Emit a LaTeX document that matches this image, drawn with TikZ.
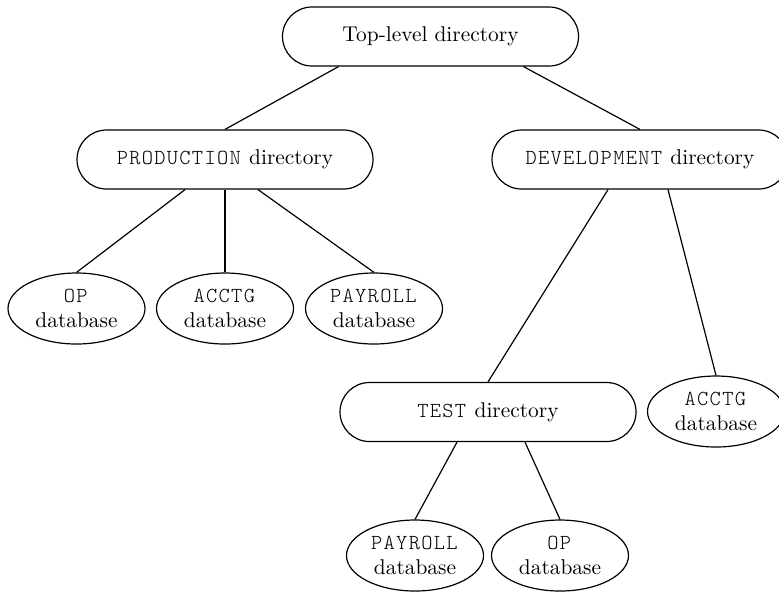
\documentclass[tikz,border=0pt]{standalone}
\usepackage{fontspec}
\setmonofont[LetterSpace=6]{lmmonolt10-regular.otf}
\usepackage{tikz}
\usetikzlibrary{shapes.misc,shapes.geometric,calc}

\begin{document}
\begin{tikzpicture}[x=0.5pt, y=-0.5pt,
    dirbox/.style={draw, rounded rectangle, line width=0.6pt, minimum width=148pt, minimum height=29.5pt, inner sep=0pt, font=\fontsize{10.7}{13}\selectfont},
    dbbox/.style={draw, ellipse, line width=0.6pt, minimum width=68.5pt, minimum height=35.5pt, inner sep=0pt, align=center, font=\fontsize{10.7}{12.5}\selectfont},
    link/.style={line width=0.6pt}]
\useasboundingbox (0,0) rectangle (779,591);

% Directories
\node[dirbox] (top) at (430.5, 36.5) {Top-level directory};
\node[dirbox] (prod) at (225, 159.5) {\texttt{PRODUCTION} directory};
\node[dirbox] (dev) at (640, 159.5) {\texttt{DEVELOPMENT} directory};
\node[dirbox] (test) at (488, 412) {\texttt{TEST} directory};

% Databases
\node[dbbox] (op1) at (76.5, 308.5) {\texttt{OP}\\database};
\node[dbbox] (acctg1) at (225, 308.5) {\texttt{ACCTG}\\database};
\node[dbbox] (payroll1) at (374, 308.5) {\texttt{PAYROLL}\\database};
\node[dbbox] (acctg2) at (716, 411.5) {\texttt{ACCTG}\\database};
\node[dbbox] (payroll2) at (415, 555.5) {\texttt{PAYROLL}\\database};
\node[dbbox] (op2) at (560, 555.5) {\texttt{OP}\\database};

% Links
\draw[link] ($(top.south)+(-92,0)$) -- (prod.north);
\draw[link] ($(top.south)+(93,0)$) -- (dev.north);
\draw[link] ($(prod.south)+(-40,0)$) -- (op1.north);
\draw[link] (prod.south) -- (acctg1.north);
\draw[link] ($(prod.south)+(33,0)$) -- (payroll1.north);
\draw[link] ($(dev.south)+(-32,0)$) -- (test.north);
\draw[link] ($(dev.south)+(28,0)$) -- (acctg2.north);
\draw[link] ($(test.south)+(-31,0)$) -- (payroll2.north);
\draw[link] ($(test.south)+(37,0)$) -- (op2.north);

\end{tikzpicture}
\end{document}
